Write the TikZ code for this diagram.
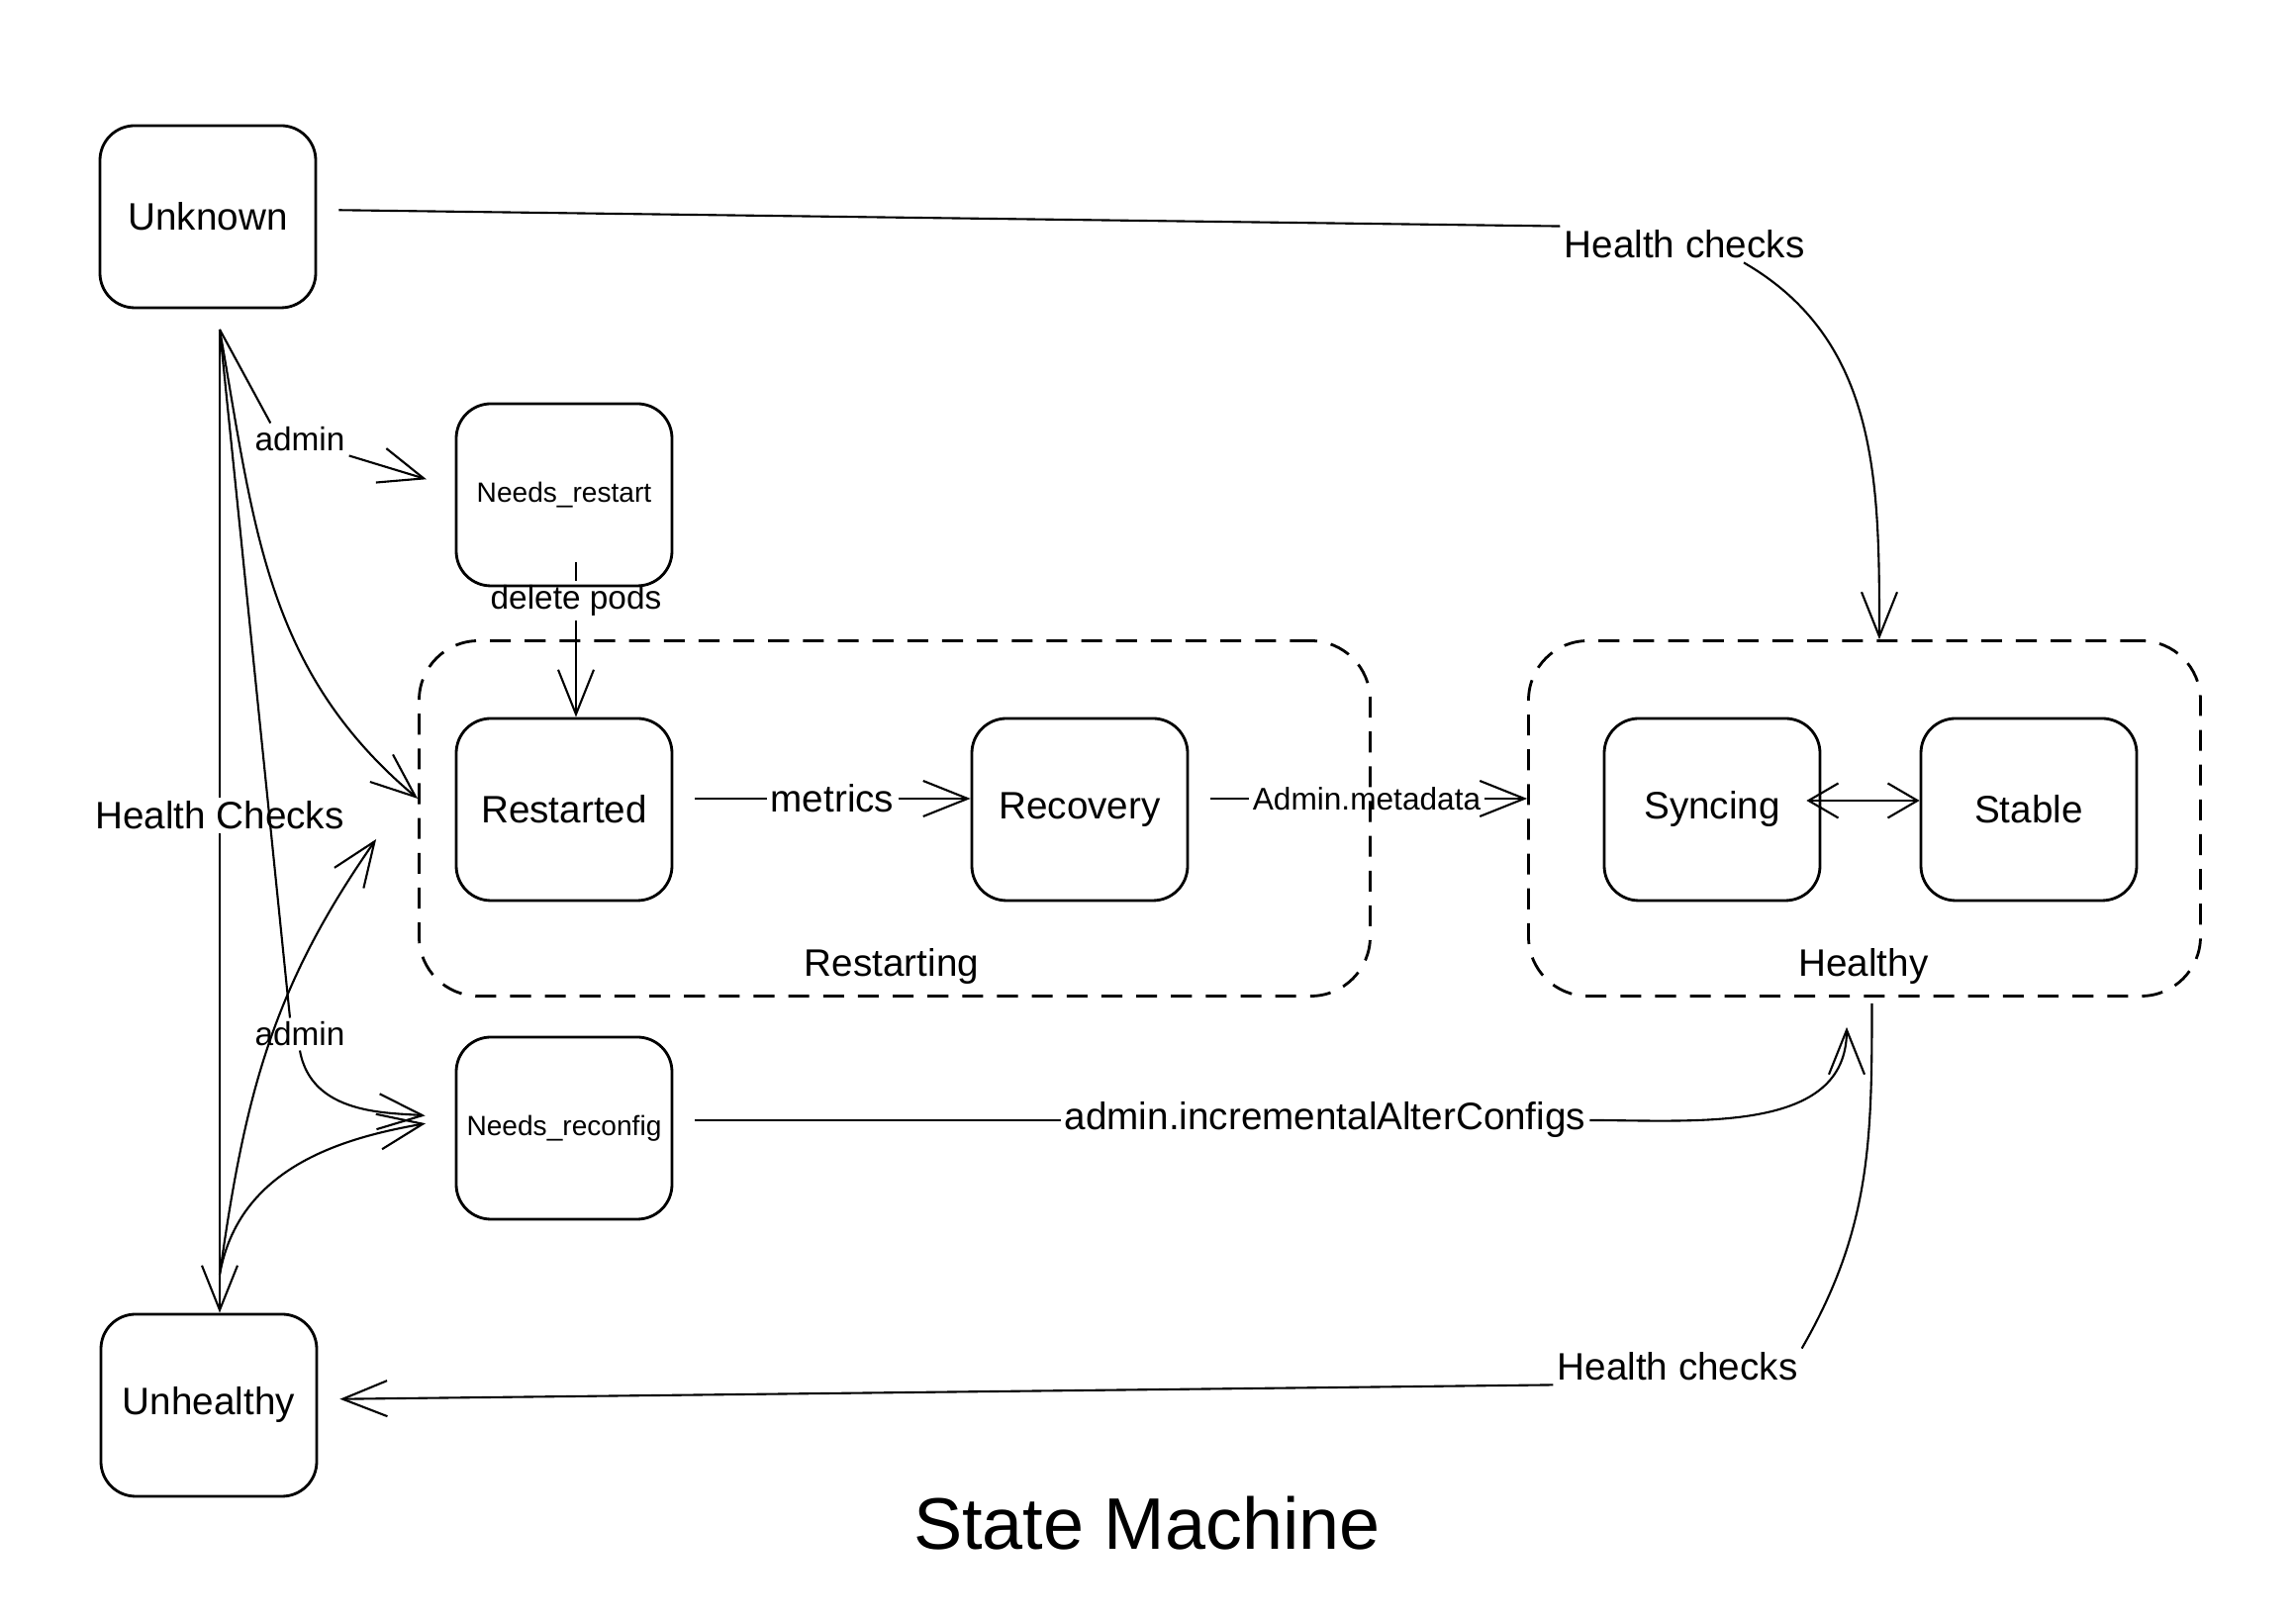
\documentclass[tikz,border=0pt]{standalone}
\usepackage{fontspec}
\setmainfont{Liberation Sans}
\usetikzlibrary{arrows.meta}
\begin{document}
\begin{tikzpicture}
	\tikzstyle{State} = [rectangle, rounded corners=3.5mm, minimum width=2.18cm, minimum height=1.84cm, inner sep=1pt, text centered, draw=black, thick, font=\fontsize{11}{13}\selectfont]
	\tikzstyle{SmallState} = [State, font=\fontsize{8}{10}\selectfont]
	\tikzstyle{Group} = [rectangle, rounded corners=6mm, minimum height=3.59cm, draw=black, thick, dash pattern=on 6pt off 4pt]
	\tikzstyle{Label} = [font=\fontsize{11}{13}\selectfont, inner sep=1pt]
	\tikzstyle{SmallLabel} = [font=\fontsize{9.5}{11}\selectfont, inner sep=1pt]
	\tikzstyle{Link} = [semithick]
	\tikzstyle{arrow} = [semithick,->,>={Straight Barb[length=4.5mm,width=3.6mm]}]
	
	\useasboundingbox (0,0) rectangle (23.2,16.4);
	
	\node (restarting) [Group, minimum width=9.61cm] at (9.04,8.13) {};
	\node (healthy) [Group, minimum width=6.79cm] at (18.84,8.13) {};
	\node (restartingtext) [Label] at (9.01,6.63) {Restarting};
	\node (healthytext) [Label] at (18.83,6.63) {Healthy};
	
	\node (unknown) [State] at (2.10,14.21) {Unknown};
	\node (needsrestart) [SmallState] at (5.70,11.40) {Needs\_restart};
	\node (restarted) [State] at (5.70,8.22) {Restarted};
	\node (recovery) [State] at (10.91,8.22) {Recovery};
	\node (syncing) [State] at (17.30,8.22) {Syncing};
	\node (stable) [State] at (20.50,8.22) {Stable};
	\node (needsreconfig) [SmallState] at (5.70,5.00) {Needs\_reconfig};
	\node (unhealthy) [State] at (2.11,2.20) {Unhealthy};
	
	\node (hcheckstop) [Label] at (17.02,13.93) {Health checks};
	\node (adminrestart) [SmallLabel] at (3.03,11.96) {admin};
	\node (hchecksleft) [Label] at (2.22,8.16) {Health Checks};
	\node (adminreconfig) [SmallLabel] at (3.03,5.95) {admin};
	\node (deletepods) [SmallLabel] at (5.82,10.33) {delete pods};
	\node (metrics) [Label] at (8.41,8.33) {metrics};
	\node (adminmeta) [Label, font=\fontsize{9}{11}\selectfont] at (13.81,8.33) {Admin.metadata};
	\node (alterconfigs) [Label] at (13.39,5.08) {admin.incrementalAlterConfigs};
	\node (hchecksbottom) [Label] at (16.95,2.59) {Health checks};
	\node (title) [font=\fontsize{21}{25}\selectfont] at (11.59,1.01) {State Machine};
	
	\coordinate (unknownout) at (2.22,13.07);
	\coordinate (unhealthyout) at (2.22,3.52);
	
	\draw [Link, shorten <=2.2mm] ([yshift=0.7mm]unknown.east) -- (hcheckstop.north west);
	\draw [arrow] ([xshift=6mm]hcheckstop.south) to [out=-30, in=90] ([xshift=1.5mm]healthy.north);
	\draw [Link] (unknownout) -- ([xshift=2mm]adminrestart.north west);
	\draw [arrow, shorten >=3mm] (adminrestart.south east) -- ([yshift=0.7mm]needsrestart.west);
	\draw [arrow] (unknownout) to [out=-80, in=140] ([yshift=2mm]restarting.west);
	\draw [Link] (unknownout) -- (hchecksleft.north);
	\draw [arrow] (hchecksleft.south) -- (hchecksleft |- unhealthy.north);
	\draw [Link] (unknownout) -- ([xshift=-1mm]adminreconfig.north);
	\draw [arrow, shorten >=3mm] (adminreconfig.south) to [out=-80, in=175] ([yshift=1mm]needsreconfig.west);
	\draw [arrow] (unhealthyout) to [out=82, in=-125] ([xshift=-4.2mm, yshift=-2.1mm]restarting.west);
	\draw [arrow, shorten >=3mm] (unhealthyout) to [out=80, in=190] ([yshift=1mm]needsreconfig.west);
	\draw [Link] ([yshift=2.5mm]needsrestart.south -| deletepods) -- (deletepods.north);
	\draw [arrow] (deletepods.south) -- (deletepods |- restarted.north);
	\draw [Link, shorten <=2.2mm] (restarted.east |- metrics) -- (metrics.west);
	\draw [arrow] (metrics.east) -- (recovery.west |- metrics);
	\draw [Link, shorten <=2.2mm] (recovery.east |- adminmeta) -- (adminmeta.west);
	\draw [arrow] (adminmeta.east) -- (healthy.west |- adminmeta);
	\draw [arrow, <->, >={Straight Barb[length=3mm,width=3.5mm]}] ([xshift=-1.5mm, yshift=0.9mm]syncing.east) -- ([yshift=0.9mm]stable.west);
	\draw [Link, shorten <=2.2mm] (needsreconfig.east |- alterconfigs) -- (alterconfigs.west);
	\draw [arrow] (alterconfigs.east) to [out=0, in=-90] ([xshift=-1.8mm, yshift=-3mm]healthy.south);
	\draw [Link] ([xshift=0.75mm, yshift=-0.6mm]healthy.south) to [out=-90, in=60] (hchecksbottom.north east);
	\draw [arrow, shorten >=2.2mm] (hchecksbottom.south west) -- ([yshift=0.6mm]unhealthy.east);
\end{tikzpicture}
\end{document}
